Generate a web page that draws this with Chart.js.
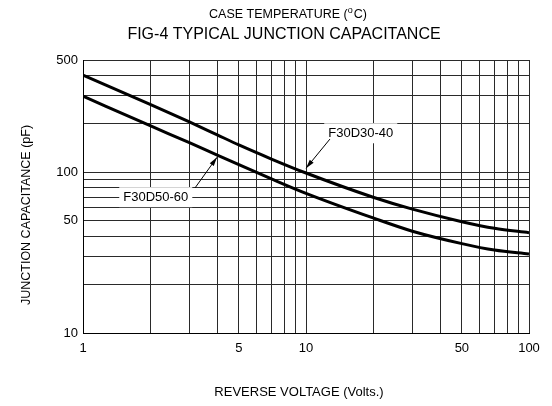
<!DOCTYPE html>
<html>
<head>
<meta charset="utf-8">
<script src="https://cdn.jsdelivr.net/npm/chart.js@4/dist/chart.umd.min.js"></script>
<style>
  html, body { margin: 0; padding: 0; background: #fff; }
  #wrap { width: 552px; height: 406px; }
</style>
</head>
<body>
<div id="wrap"><canvas id="chart"></canvas></div>
<script>
// reverse voltage (V)
const voltage = [1, 2, 3, 4, 5, 7, 10, 20, 30, 50, 70, 100];
// junction capacitance (pF)
const capF30D30 = [403, 265, 206, 171, 148, 121, 99, 70, 59, 49.3, 44.8, 42.1];
const capF30D50 = [298, 195, 153, 128, 111.5, 91, 74, 52, 43, 36, 32.8, 31];

const xGrid = [1, 2, 3, 4, 5, 6, 7, 8, 9, 10, 20, 30, 40, 50, 60, 70, 80, 90, 100];
const yGrid = [10, 20, 30, 40, 50, 60, 70, 80, 90, 100, 200, 300, 400, 500];
const xTickLabels = [1, 5, 10, 50, 100];
const yTickLabels = [10, 50, 100, 500];

// callouts: text position and arrow, in data units
const callouts = [
  { text: 'F30D30-40', at: [17.6, 175], from: [12.8, 161], to: [10, 106] },
  { text: 'F30D50-60', at: [2.12, 70], from: [3.18, 80], to: [3.99, 124] }
];

const FONT = '"Liberation Sans", Arial, sans-serif';

const toPts = (xs, ys) => xs.map((x, i) => ({ x: x, y: ys[i] }));

const textPlugin = {
  id: 'textPlugin',
  beforeDraw(chart) {
    const c = chart.ctx;
    c.save();
    c.fillStyle = '#fff';
    c.fillRect(0, 0, chart.width, chart.height);
    c.restore();
  },
  afterDraw(chart) {
    const c = chart.ctx;
    const xs = chart.scales.x, ys = chart.scales.y;
    c.save();
    c.fillStyle = '#000';
    c.strokeStyle = '#000';

    // callouts
    c.font = '13px ' + FONT;
    c.textAlign = 'center';
    c.textBaseline = 'middle';
    callouts.forEach(cl => {
      const tx = xs.getPixelForValue(cl.at[0]), ty = ys.getPixelForValue(cl.at[1]);
      const w = c.measureText(cl.text).width;
      c.fillStyle = '#fff';
      c.fillRect(tx - w / 2 - 4, ty - 10, w + 8, 20);
      c.fillStyle = '#000';
      c.fillText(cl.text, tx, ty);
      const x1 = xs.getPixelForValue(cl.from[0]), y1 = ys.getPixelForValue(cl.from[1]);
      const x2 = xs.getPixelForValue(cl.to[0]), y2 = ys.getPixelForValue(cl.to[1]);
      c.lineWidth = 1;
      c.beginPath();
      c.moveTo(x1, y1);
      c.lineTo(x2, y2);
      c.stroke();
      const a = Math.atan2(y2 - y1, x2 - x1);
      c.beginPath();
      c.moveTo(x2, y2);
      c.lineTo(x2 - 9 * Math.cos(a) + 2.5 * Math.sin(a), y2 - 9 * Math.sin(a) - 2.5 * Math.cos(a));
      c.lineTo(x2 - 9 * Math.cos(a) - 2.5 * Math.sin(a), y2 - 9 * Math.sin(a) + 2.5 * Math.cos(a));
      c.closePath();
      c.fill();
    });

    // top titles
    c.textBaseline = 'alphabetic';
    c.textAlign = 'left';
    const p1 = 'CASE TEMPERATURE (', p3 = 'C)';
    c.font = '9px ' + FONT;
    const wo = c.measureText('o').width;
    c.font = '12.5px ' + FONT;
    const total = c.measureText(p1).width + wo + 1 + c.measureText(p3).width;
    let x = 288 - total / 2;
    c.fillText(p1, x, 18);
    x += c.measureText(p1).width;
    c.font = '9px ' + FONT;
    c.fillText('o', x, 13);
    x += wo + 1;
    c.font = '12.5px ' + FONT;
    c.fillText(p3, x, 18);

    c.textAlign = 'center';
    c.font = '16px ' + FONT;
    c.fillText('FIG-4 TYPICAL JUNCTION CAPACITANCE', 284, 39);

    // axis titles
    c.font = '13px ' + FONT;
    c.textBaseline = 'middle';
    c.fillText('REVERSE VOLTAGE (Volts.)', 299, 392);
    c.translate(27, 215);
    c.rotate(-Math.PI / 2);
    c.font = '12.5px ' + FONT;
    c.fillText('JUNCTION CAPACITANCE (pF)', 0, 0);
    c.restore();
  }
};

new Chart(document.getElementById('chart'), {
  type: 'line',
  data: {
    datasets: [
      { label: 'F30D30-40', data: toPts(voltage, capF30D30) },
      { label: 'F30D50-60', data: toPts(voltage, capF30D50) }
    ]
  },
  options: {
    responsive: true,
    maintainAspectRatio: false,
    animation: false,
    layout: { padding: { top: 60, right: 23, left: 0, bottom: 0 } },
    elements: {
      line: { borderColor: '#000', borderWidth: 3, cubicInterpolationMode: 'monotone', fill: false },
      point: { radius: 0, hoverRadius: 0 }
    },
    plugins: { legend: { display: false }, tooltip: { enabled: false } },
    scales: {
      x: {
        type: 'logarithmic',
        min: 1, max: 100,
        afterBuildTicks: axis => { axis.ticks = xGrid.map(v => ({ value: v })); },
        afterFit: axis => { axis.height = 73; },
        grid: { color: '#2a2a2a', lineWidth: 1, drawTicks: false },
        border: { color: '#000', width: 1 },
        ticks: {
          autoSkip: false, maxRotation: 0, padding: 8, color: '#000',
          font: { family: FONT, size: 13 },
          callback: v => xTickLabels.includes(v) ? String(v) : ''
        }
      },
      y: {
        type: 'logarithmic',
        min: 10, max: 500,
        afterBuildTicks: axis => { axis.ticks = yGrid.map(v => ({ value: v })); },
        afterFit: axis => { axis.width = 83; },
        grid: { color: '#2a2a2a', lineWidth: 1, drawTicks: false },
        border: { color: '#000', width: 1 },
        ticks: {
          autoSkip: false, padding: 5, color: '#000',
          font: { family: FONT, size: 13 },
          callback: v => yTickLabels.includes(v) ? String(v) : ''
        }
      }
    }
  },
  plugins: [textPlugin]
});
</script>
</body>
</html>
